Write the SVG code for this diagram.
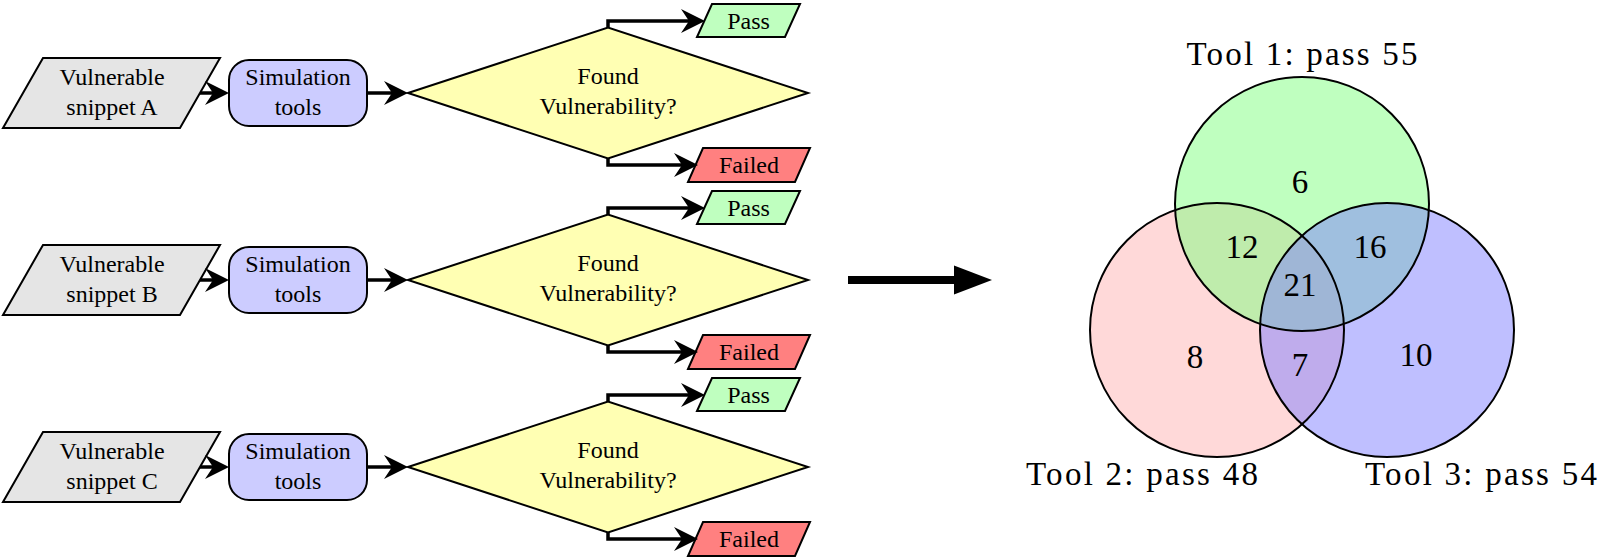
<svg xmlns="http://www.w3.org/2000/svg" width="1613" height="560" viewBox="0 0 1613 560">
<defs>
<style>
text{font-family:"Liberation Serif","Times New Roman",serif;fill:#000;text-anchor:middle}
.t{font-size:24px}
.big{font-size:33px}
.node{stroke:#000;stroke-width:2;stroke-linejoin:miter}
.in{fill:#e5e5e5}
.sim{fill:#ccccff}
.dec{fill:#ffffb3}
.pass{fill:#bfffbf}
.fail{fill:#ff8080}
.conn{fill:none;stroke:#000;stroke-width:3.5;marker-end:url(#ah)}
.vf{stroke:none;fill-opacity:0.5}
.vo{fill:none;stroke:#000;stroke-width:2}
</style>
<marker id="ah" viewBox="-1 -13 26 26" markerWidth="26" markerHeight="26" refX="8" refY="0" orient="auto" markerUnits="userSpaceOnUse">
<path d="M0,-12 L24,0 L0,12 L8,0 Z" fill="#000"/>
</marker>
</defs>

<!-- Row A -->
<g id="inputA"><polygon class="node in" points="43,58 220,58 180,128 3,128"/><text class="t" x="112" y="85">Vulnerable</text><text class="t" x="112" y="115">snippet A</text></g>
<g id="simA"><rect class="node sim" x="229" y="60" width="138" height="66" rx="20"/><text class="t" x="298" y="85">Simulation</text><text class="t" x="298" y="115">tools</text></g>
<g id="decA"><polygon class="node dec" points="408,93 608,27.5 808,93 608,158.5"/><text class="t" x="608" y="84">Found</text><text class="t" x="608" y="114">Vulnerability?</text></g>
<g id="passA"><polygon class="node pass" points="712,4 800,4 785,37 697,37"/><text class="t" x="748.5" y="29">Pass</text></g>
<g id="failA"><polygon class="node fail" points="703,148 810,148 795,182 688,182"/><text class="t" x="749" y="173">Failed</text></g>

<!-- Row B -->
<g id="inputB"><polygon class="node in" points="43,245 220,245 180,315 3,315"/><text class="t" x="112" y="272">Vulnerable</text><text class="t" x="112" y="302">snippet B</text></g>
<g id="simB"><rect class="node sim" x="229" y="247" width="138" height="66" rx="20"/><text class="t" x="298" y="272">Simulation</text><text class="t" x="298" y="302">tools</text></g>
<g id="decB"><polygon class="node dec" points="408,280 608,214.5 808,280 608,345.5"/><text class="t" x="608" y="271">Found</text><text class="t" x="608" y="301">Vulnerability?</text></g>
<g id="passB"><polygon class="node pass" points="712,191 800,191 785,224 697,224"/><text class="t" x="748.5" y="216">Pass</text></g>
<g id="failB"><polygon class="node fail" points="703,335 810,335 795,369 688,369"/><text class="t" x="749" y="360">Failed</text></g>

<!-- Row C -->
<g id="inputC"><polygon class="node in" points="43,432 220,432 180,502 3,502"/><text class="t" x="112" y="459">Vulnerable</text><text class="t" x="112" y="489">snippet C</text></g>
<g id="simC"><rect class="node sim" x="229" y="434" width="138" height="66" rx="20"/><text class="t" x="298" y="459">Simulation</text><text class="t" x="298" y="489">tools</text></g>
<g id="decC"><polygon class="node dec" points="408,467 608,401.5 808,467 608,532.5"/><text class="t" x="608" y="458">Found</text><text class="t" x="608" y="488">Vulnerability?</text></g>
<g id="passC"><polygon class="node pass" points="712,378 800,378 785,411 697,411"/><text class="t" x="748.5" y="403">Pass</text></g>
<g id="failC"><polygon class="node fail" points="703,522 810,522 795,556 688,556"/><text class="t" x="749" y="547">Failed</text></g>

<g id="connectors">
<path class="conn" d="M200,93 H213"/>
<path class="conn" d="M367,93 H392"/>
<path class="conn" d="M608,27.5 V21 H689"/>
<path class="conn" d="M608,158.5 V165 H682"/>
<path class="conn" d="M200,280 H213"/>
<path class="conn" d="M367,280 H392"/>
<path class="conn" d="M608,214.5 V208 H689"/>
<path class="conn" d="M608,345.5 V352 H682"/>
<path class="conn" d="M200,467 H213"/>
<path class="conn" d="M367,467 H392"/>
<path class="conn" d="M608,401.5 V395 H689"/>
<path class="conn" d="M608,532.5 V539 H682"/>
<path d="M848,280 H956" fill="none" stroke="#000" stroke-width="8"/>
<polygon points="954,265.5 992,280 954,294.5" fill="#000"/>
</g>

<g id="venn">
<circle class="vf" cx="1217" cy="330" r="127" fill="#ffb3b3"/>
<circle class="vf" cx="1302" cy="204" r="127" fill="#80ff80"/>
<circle class="vf" cx="1387" cy="330" r="127" fill="#8080ff"/>
<circle class="vo" cx="1217" cy="330" r="127"/>
<circle class="vo" cx="1302" cy="204" r="127"/>
<circle class="vo" cx="1387" cy="330" r="127"/>
<text class="big" x="1300" y="193">6</text>
<text class="big" x="1242" y="258">12</text>
<text class="big" x="1370" y="258">16</text>
<text class="big" x="1300" y="296">21</text>
<text class="big" x="1195" y="368">8</text>
<text class="big" x="1300" y="376">7</text>
<text class="big" x="1416" y="366">10</text>
<text class="big" x="1302" y="65" textLength="231" lengthAdjust="spacing">Tool 1: pass 55</text>
<text class="big" x="1142" y="485" textLength="232" lengthAdjust="spacing">Tool 2: pass 48</text>
<text class="big" x="1481" y="485" textLength="232" lengthAdjust="spacing">Tool 3: pass 54</text>
</g>
</svg>
